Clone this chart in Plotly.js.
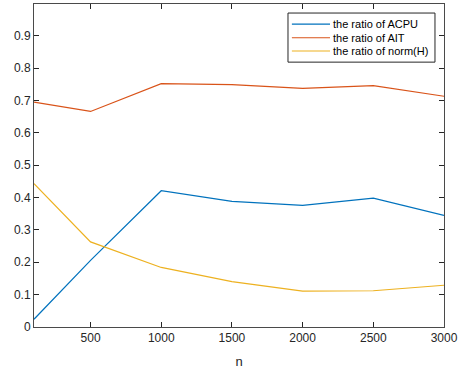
<!DOCTYPE html>
<html><head><meta charset="utf-8">
<script src="https://cdn.plot.ly/plotly-3.0.1.min.js"></script>
<style>html,body{margin:0;padding:0;background:#fff}#chart{width:459px;height:370px}</style>
</head><body><div id="chart"></div>
<script>
const nValues = [100, 500, 1000, 1500, 2000, 2500, 3000];
const ratioACPU = [0.024, 0.206, 0.421, 0.388, 0.376, 0.398, 0.345];
const ratioAIT = [0.695, 0.666, 0.752, 0.749, 0.737, 0.746, 0.713];
const ratioNormH = [0.443, 0.263, 0.184, 0.140, 0.111, 0.112, 0.129];
const seriesNames = ['the ratio of ACPU', 'the ratio of AIT', 'the ratio of norm(H)'];
const xTicks = [500, 1000, 1500, 2000, 2500, 3000];
const yTicks = [0, 0.1, 0.2, 0.3, 0.4, 0.5, 0.6, 0.7, 0.8, 0.9];
const yTickText = ['0', '0.1', '0.2', '0.3', '0.4', '0.5', '0.6', '0.7', '0.8', '0.9'];
const colors = ['#0072BD', '#D95319', '#EDB120'];

const FONT = 'Liberation Sans, Arial, sans-serif';

const traces = [ratioACPU, ratioAIT, ratioNormH].map((ys, i) => ({
  x: nValues, y: ys, type: 'scatter', mode: 'lines', name: seriesNames[i],
  line: {color: colors[i], width: 1.2}, showlegend: false
}));

// MATLAB-style legend box (paper coordinates)
const legBox = {x0: 0.6195, x1: 0.978, y0: 0.820, y1: 0.972};
const legRows = [0.938, 0.8955, 0.8545];
const shapes = [{
  type: 'rect', xref: 'paper', yref: 'paper',
  x0: legBox.x0, x1: legBox.x1, y0: legBox.y0, y1: legBox.y1,
  line: {color: '#262626', width: 1}, fillcolor: '#fff', layer: 'above'
}];
const annotations = [];
seriesNames.forEach((nm, i) => {
  shapes.push({type: 'line', xref: 'paper', yref: 'paper',
    x0: 0.629, x1: 0.722, y0: legRows[i], y1: legRows[i],
    line: {color: colors[i], width: 1.2}, layer: 'above'});
  annotations.push({xref: 'paper', yref: 'paper', x: 0.7244, y: legRows[i],
    xanchor: 'left', yanchor: 'middle', showarrow: false, text: nm,
    font: {family: FONT, size: 11, color: '#000'}});
});

const axisCommon = {
  showgrid: false, zeroline: false, showline: true, mirror: 'ticks',
  linecolor: '#4a4a4a', linewidth: 1, ticks: 'inside', ticklen: 5,
  tickcolor: '#262626', tickfont: {family: FONT, size: 12, color: '#262626'}
};

const layout = {
  width: 459, height: 370,
  margin: {l: 34, r: 15, t: 4, b: 43},
  paper_bgcolor: '#fff', plot_bgcolor: '#fff',
  showlegend: false,
  shapes: shapes, annotations: annotations,
  xaxis: Object.assign({}, axisCommon, {
    range: [100, 3000], tickvals: xTicks, ticktext: xTicks.map(String),
    title: {text: 'n', font: {family: FONT, size: 13, color: '#262626'}, standoff: 12}
  }),
  yaxis: Object.assign({}, axisCommon, {
    range: [0, 0.998], tickvals: yTicks, ticktext: yTickText
  })
};

Plotly.newPlot('chart', traces, layout, {displayModeBar: false, staticPlot: true});
</script></body></html>
